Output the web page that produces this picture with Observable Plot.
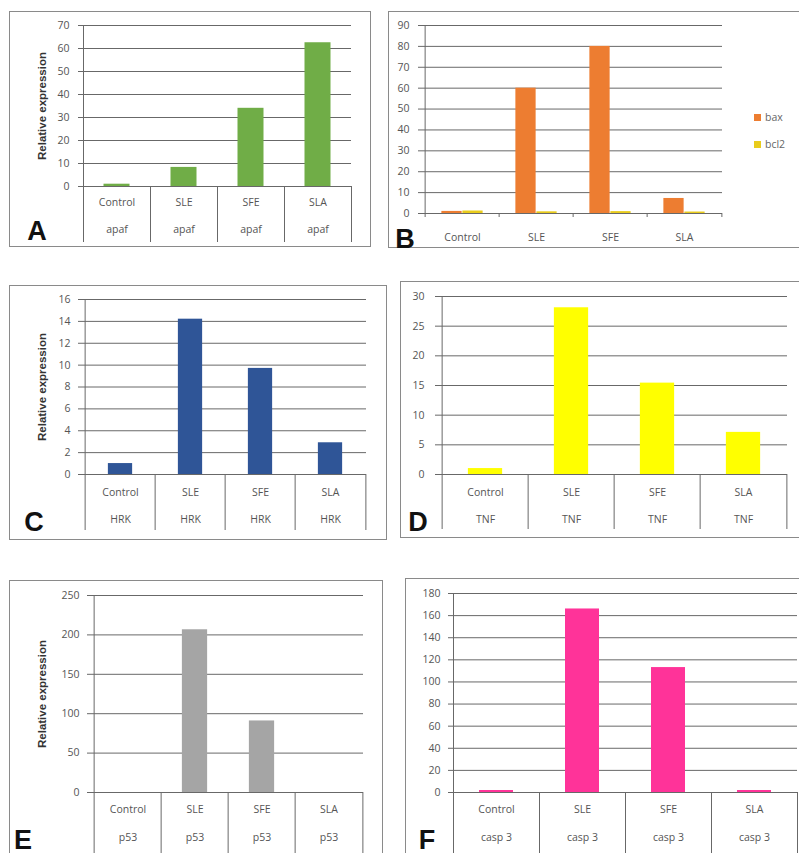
<!DOCTYPE html>
<html>
<head>
<meta charset="utf-8">
<script src="https://cdn.jsdelivr.net/npm/d3@7"></script>
<script src="https://cdn.jsdelivr.net/npm/@observablehq/plot@0.6"></script>
<style>
  html, body { margin: 0; padding: 0; background: #fff; }
  #page { position: relative; width: 799px; height: 853px; overflow: hidden; background: #fff; }
  .box { position: absolute; box-sizing: border-box; border: 1.5px solid #8a8a8a; }
  .plot { position: absolute; }
  .letter { position: absolute; font-family: "Liberation Sans", Arial, sans-serif; font-weight: bold; font-size: 27px; line-height: 1; color: #111; transform: translate(-50%, -50%); }
  .legend { position: absolute; font-family: "Open Sans", sans-serif; font-size: 10.5px; color: #666; }
  .legend .item { position: absolute; white-space: nowrap; display: flex; align-items: center; transform: translateY(-50%); }
  .legend .sw { width: 7px; height: 7px; margin-right: 4px; display: inline-block; }
</style>
</head>
<body>
<div id="page"></div>
<script>
// ---- data ----
const categories = ["Control", "SLE", "SFE", "SLA"];
const apaf = [1, 8.3, 34, 62.5];
const bax = [1, 60, 80, 7.2];
const bcl2 = [1.2, 0.8, 0.9, 0.7];
const hrk = [1, 14.2, 9.7, 2.9];
const tnf = [1, 28.1, 15.4, 7.1];
const p53 = [0, 206.5, 90.8, 0];
const casp3 = [1.8, 166, 113, 1.8];

const seriesB = ["bax", "bcl2"];
const geneA = "apaf", geneC = "HRK", geneD = "TNF", geneE = "p53", geneF = "casp 3";
const yLabel = "Relative expression";

const ticksA = [0, 10, 20, 30, 40, 50, 60, 70];
const ticksB = [0, 10, 20, 30, 40, 50, 60, 70, 80, 90];
const ticksC = [0, 2, 4, 6, 8, 10, 12, 14, 16];
const ticksD = [0, 5, 10, 15, 20, 25, 30];
const ticksE = [0, 50, 100, 150, 200, 250];
const ticksF = [0, 20, 40, 60, 80, 100, 120, 140, 160, 180];

const colors = { apaf: "#70ad47", bax: "#ed7d31", bcl2: "#e9cc1c", hrk: "#2f5597", tnf: "#ffff00", p53: "#a5a5a5", casp3: "#ff3399" };

const page = document.getElementById("page");
const gridColor = "#686868";
const textColor = "#555";
const tickFont = "'Open Sans', sans-serif";

function addBox(l, t, r, b) {
  const d = document.createElement("div");
  d.className = "box";
  Object.assign(d.style, { left: l + "px", top: t + "px", width: (r - l) + "px", height: (b - t) + "px" });
  page.appendChild(d);
}
function addLetter(txt, x, y) {
  const d = document.createElement("div");
  d.className = "letter";
  d.textContent = txt;
  Object.assign(d.style, { left: x + "px", top: y + "px" });
  page.appendChild(d);
}

// single-series panel
function singlePanel(o) {
  const W = o.box[2] - o.box[0], H = o.box[3] - o.box[1];
  const mL = o.frame[0] - o.box[0], mR = o.box[2] - o.frame[2];
  const mT = o.frame[1] - o.box[1], mB = o.box[3] - o.frame[3];
  const step = (o.frame[2] - o.frame[0]) / categories.length;
  const frameH = o.frame[3] - o.frame[1];
  const inset = (step - o.barW) / 2;
  const data = categories.map((c, i) => ({ cat: c, v: o.values[i] }));
  const last = categories[categories.length - 1];
  const marks = [
    Plot.gridY(o.ticks, { stroke: gridColor, strokeOpacity: 1, strokeWidth: 1 }),
    Plot.axisY(o.ticks, { tickSize: 5, tickPadding: o.tickPad, stroke: gridColor, fill: textColor, fontSize: o.tickFs, label: null }),
    Plot.barY(data, { x: "cat", y: "v", fill: o.color, insetLeft: inset, insetRight: inset }),
    Plot.ruleX([categories[0]], { x: d => d, dx: -step / 2, stroke: gridColor, insetBottom: -o.ext }),
    Plot.ruleX(categories.slice(1), { x: d => d, dx: -step / 2, stroke: gridColor, insetTop: frameH, insetBottom: -o.ext }),
    Plot.ruleX([last], { x: d => d, dx: step / 2, stroke: gridColor, insetTop: frameH, insetBottom: -o.ext }),
    Plot.ruleY([0], { stroke: gridColor }),
    Plot.text(categories, { x: d => d, text: d => d, frameAnchor: "bottom", dy: o.row1, fill: textColor, fontSize: 10.5, letterSpacing: 1.2 }),
    Plot.text(categories, { x: d => d, text: () => o.gene, frameAnchor: "bottom", dy: o.row2, fill: textColor, fontSize: 10.5, letterSpacing: 1.2 })
  ];
  if (o.ylab) {
    marks.push(Plot.text([yLabel], { frameAnchor: "left", textAnchor: "middle", rotate: -90, dx: -o.ylabDx, fontWeight: "bold", fontSize: 11.5, letterSpacing: 0.4, fill: "#333", fontFamily: "'Liberation Sans', Arial, sans-serif" }));
  }
  const chart = Plot.plot({
    width: W, height: H,
    marginLeft: mL, marginRight: mR, marginTop: mT, marginBottom: mB,
    style: { fontFamily: tickFont, background: "transparent", color: textColor, overflow: "visible" },
    x: { domain: categories, padding: 0, axis: null },
    y: { domain: [o.ticks[0], o.ticks[o.ticks.length - 1]], axis: null },
    marks
  });
  chart.classList.add("plot");
  Object.assign(chart.style, { left: o.box[0] + "px", top: o.box[1] + "px", position: "absolute" });
  addBox(...o.box);
  page.appendChild(chart);
}

// A
singlePanel({ box: [9, 11, 371, 247], frame: [83, 25, 351, 186], values: apaf, ticks: ticksA, color: colors.apaf, barW: 26, gene: geneA, row1: 19, row2: 46, ext: 56, tickPad: 9, tickFs: 10.5, ylab: true, ylabDx: 41 });
addLetter("A", 37, 231);

// C
singlePanel({ box: [9, 285, 387, 540], frame: [83, 299, 366, 474], values: hrk, ticks: ticksC, color: colors.hrk, barW: 25, gene: geneC, row1: 21, row2: 48, ext: 56, tickPad: 8, tickFs: 10.5, ylab: true, ylabDx: 41 });
addLetter("C", 34, 522);

// D
singlePanel({ box: [400, 281, 801, 538], frame: [440, 296, 787, 474], values: tnf, ticks: ticksD, color: colors.tnf, barW: 35, gene: geneD, row1: 21, row2: 48, ext: 55, tickPad: 11, tickFs: 10.5, ylab: false });
addLetter("D", 418, 522);

// E
singlePanel({ box: [9, 580, 383, 870], frame: [92, 595, 363, 792], values: p53, ticks: ticksE, color: colors.p53, barW: 26, gene: geneE, row1: 20, row2: 48, ext: 80, tickPad: 8, tickFs: 10.5, ylab: true, ylabDx: 50 });
addLetter("E", 23, 840);

// F
singlePanel({ box: [405, 578, 801, 870], frame: [453, 593, 797, 792], values: casp3, ticks: ticksF, color: colors.casp3, barW: 34, gene: geneF, row1: 20, row2: 48, ext: 80, tickPad: 8, tickFs: 10.5, ylab: false });
addLetter("F", 427, 840);

// B (grouped)
(function () {
  const box = [388, 11, 801, 248], frame = [423, 25, 722, 213];
  const W = box[2] - box[0], H = box[3] - box[1];
  const step = (frame[2] - frame[0]) / categories.length;
  const frameH = frame[3] - frame[1];
  const bw = 21;
  const dataB = [];
  categories.forEach((c, i) => {
    dataB.push({ cat: c, s: "bax", v: bax[i] });
    dataB.push({ cat: c, s: "bcl2", v: bcl2[i] });
  });
  const last = categories[categories.length - 1];
  const chart = Plot.plot({
    width: W, height: H,
    marginLeft: frame[0] - box[0], marginRight: box[2] - frame[2], marginTop: frame[1] - box[1], marginBottom: box[3] - frame[3],
    style: { fontFamily: tickFont, background: "transparent", color: textColor, overflow: "visible" },
    x: { domain: categories, padding: 0, axis: null },
    y: { domain: [0, 90], axis: null },
    color: { domain: seriesB, range: [colors.bax, colors.bcl2] },
    marks: [
      Plot.gridY(ticksB, { stroke: gridColor, strokeOpacity: 1 }),
      Plot.axisY(ticksB, { tickSize: 5, tickPadding: 9, stroke: gridColor, fill: textColor, fontSize: 10.5, label: null }),
      Plot.barY(dataB.filter(d => d.s === "bax"), { x: "cat", y: "v", fill: "s", insetLeft: step / 2 - bw, insetRight: step / 2 }),
      Plot.barY(dataB.filter(d => d.s === "bcl2"), { x: "cat", y: "v", fill: "s", insetLeft: step / 2, insetRight: step / 2 - bw }),
      Plot.ruleX([categories[0]], { x: d => d, dx: -step / 2, stroke: gridColor, insetBottom: -4 }),
      Plot.ruleX(categories.slice(1), { x: d => d, dx: -step / 2, stroke: gridColor, insetTop: frameH, insetBottom: -4 }),
      Plot.ruleX([last], { x: d => d, dx: step / 2, stroke: gridColor, insetTop: frameH, insetBottom: -4 }),
      Plot.ruleY([0], { stroke: gridColor }),
      Plot.text(categories, { x: d => d, text: d => d, frameAnchor: "bottom", dy: 27, fill: textColor, fontSize: 10.5, letterSpacing: 1.2 })
    ]
  });
  Object.assign(chart.style, { left: box[0] + "px", top: box[1] + "px", position: "absolute" });
  addBox(...box);
  page.appendChild(chart);
  const lg = document.createElement("div");
  lg.className = "legend";
  Object.assign(lg.style, { left: "754px", top: "0px" });
  seriesB.forEach((s, i) => {
    const it = document.createElement("div");
    it.className = "item";
    it.style.top = (117 + i * 27) + "px";
    const sw = document.createElement("span");
    sw.className = "sw";
    sw.style.background = colors[s];
    it.appendChild(sw);
    it.appendChild(document.createTextNode(s));
    lg.appendChild(it);
  });
  page.appendChild(lg);
  addLetter("B", 405, 239);
})();
</script>
</body>
</html>
